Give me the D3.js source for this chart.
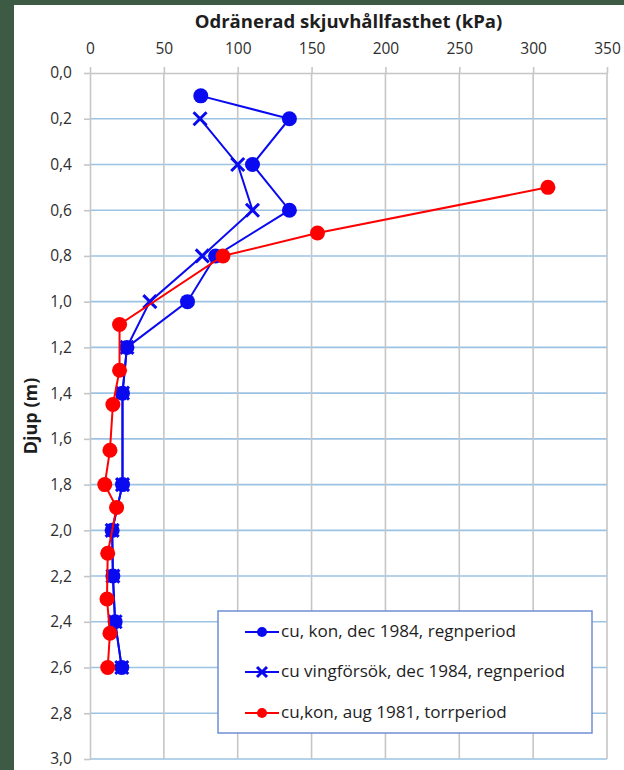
<!DOCTYPE html>
<html>
<head>
<meta charset="utf-8">
<script src="https://cdn.jsdelivr.net/npm/d3@7"></script>
<style>
  html, body { margin: 0; padding: 0; background: #3d5a45; }
  svg { display: block; }
  text { font-family: "Open Sans", "Noto Sans", sans-serif; }
</style>
</head>
<body>
<svg id="chart" width="624" height="770"></svg>
<script>
// ---- data ----
const xTicks = [0, 50, 100, 150, 200, 250, 300, 350];
const yTicks = [0, 0.2, 0.4, 0.6, 0.8, 1.0, 1.2, 1.4, 1.6, 1.8, 2.0, 2.2, 2.4, 2.6, 2.8, 3.0];

const konDec1984Depth = [0.1, 0.2, 0.4, 0.6, 0.8, 1.0, 1.2, 1.4, 1.8, 2.0, 2.2, 2.4, 2.6];
const konDec1984Cu    = [75, 135, 110, 135, 85, 66, 25, 22, 22, 15, 15.5, 17, 21.5];

const vingDec1984Depth = [0.2, 0.4, 0.6, 0.8, 1.0, 1.2, 1.4, 1.8, 2.0, 2.2, 2.4, 2.6];
const vingDec1984Cu    = [74.5, 100, 110, 76, 40.5, 25, 22, 22, 15, 15.5, 17, 21.5];

const konAug1981Depth = [0.5, 0.7, 0.8, 1.1, 1.3, 1.45, 1.65, 1.8, 1.9, 2.1, 2.3, 2.45, 2.6];
const konAug1981Cu    = [310, 154, 90, 20, 20, 15.5, 13.5, 10, 18, 12, 11.5, 13.5, 12];

const seriesNames = ["cu, kon, dec 1984, regnperiod", "cu vingförsök, dec 1984, regnperiod", "cu,kon, aug 1981, torrperiod"];
const titleText = "Odränerad skjuvhållfasthet (kPa)";
const yTitleText = "Djup (m)";

// ---- setup ----
const svg = d3.select("#chart");
const W = 624, H = 770;
svg.append("rect").attr("x", 0).attr("y", 0).attr("width", W).attr("height", H).attr("fill", "#3d5a45");
svg.append("rect").attr("x", 14).attr("y", 5).attr("width", W - 14).attr("height", H - 5).attr("fill", "#ffffff");

const x = d3.scaleLinear().domain([0, 350]).range([90, 607]);
const y = d3.scaleLinear().domain([0, 3]).range([73, 759]);

const BLUE = "#0a0af0", RED = "#ff0000";
const gridBlue = "#9dc3e4", gridGray = "#c6c6c6", textCol = "#2e2e2e";

// horizontal gridlines (blue)
svg.append("g").selectAll("line").data(yTicks.slice(1)).join("line")
  .attr("x1", x(0)).attr("x2", x(350))
  .attr("y1", d => y(d)).attr("y2", d => y(d))
  .attr("stroke", gridBlue).attr("stroke-width", 1.6);

// vertical gridlines (gray)
svg.append("g").selectAll("line").data(xTicks.slice(1)).join("line")
  .attr("x1", d => x(d)).attr("x2", d => x(d))
  .attr("y1", y(0)).attr("y2", y(3))
  .attr("stroke", gridGray).attr("stroke-width", 1.6);

// axes
const fmtY = d => d3.format(".1f")(d).replace(".", ",");
const xAxis = svg.append("g").attr("transform", `translate(0,${y(0)})`)
  .call(d3.axisTop(x).tickValues(xTicks).tickSize(6).tickPadding(13).tickSizeOuter(0));
const yAxis = svg.append("g").attr("transform", `translate(${x(0)},0)`)
  .call(d3.axisLeft(y).tickValues(yTicks).tickFormat(fmtY).tickSize(6).tickPadding(12).tickSizeOuter(0));
[xAxis, yAxis].forEach(g => {
  g.select(".domain").attr("stroke", gridGray).attr("stroke-width", 1.6);
  g.selectAll(".tick line").attr("stroke", gridGray).attr("stroke-width", 1.6);
  g.selectAll(".tick text").attr("fill", textCol).style("font-size", "15.5px")
    .style("font-family", "'Open Sans', sans-serif");
});

// titles
const t = svg.append("text").attr("x", (x(0) + x(350)) / 2).attr("y", 28)
  .attr("text-anchor", "middle").attr("fill", "#1e1e1e").style("font-weight", "bold")
  .style("font-size", "17px").text(titleText);
const tw = t.node().getComputedTextLength();
t.style("font-size", (17 * 308 / tw).toFixed(2) + "px");

svg.append("text").attr("transform", `translate(37,${(y(0) + y(3)) / 2}) rotate(-90)`)
  .attr("text-anchor", "middle").attr("fill", "#1e1e1e").style("font-weight", "bold")
  .style("font-size", "18px").text(yTitleText);

// series
const line = d3.line().x(d => x(d.v)).y(d => y(d.d));
const zip = (ds, vs) => ds.map((d, i) => ({ d, v: vs[i] }));
const s1 = zip(konDec1984Depth, konDec1984Cu);
const s2 = zip(vingDec1984Depth, vingDec1984Cu);
const s3 = zip(konAug1981Depth, konAug1981Cu);

function drawCircles(g, data, color, r) {
  g.selectAll("circle.m").data(data).join("circle").attr("class", "m")
    .attr("cx", d => x(d.v)).attr("cy", d => y(d.d)).attr("r", r).attr("fill", color);
}
function xPath(cx, cy, s) {
  return `M${cx - s},${cy - s}L${cx + s},${cy + s}M${cx - s},${cy + s}L${cx + s},${cy - s}`;
}
function drawX(g, data, color, s) {
  g.selectAll("path.m").data(data).join("path").attr("class", "m")
    .attr("d", d => xPath(x(d.v), y(d.d), s))
    .attr("stroke", color).attr("stroke-width", 3).attr("fill", "none");
}

const g1 = svg.append("g");
g1.append("path").datum(s1).attr("d", line).attr("fill", "none").attr("stroke", BLUE).attr("stroke-width", 2);
drawCircles(g1, s1, BLUE, 7.5);

const g2 = svg.append("g");
g2.append("path").datum(s2).attr("d", line).attr("fill", "none").attr("stroke", BLUE).attr("stroke-width", 2);
drawX(g2, s2, BLUE, 6.5);

const g3 = svg.append("g");
g3.append("path").datum(s3).attr("d", line).attr("fill", "none").attr("stroke", RED).attr("stroke-width", 2);
drawCircles(g3, s3, RED, 7.5);

// legend
const lg = svg.append("g");
lg.append("rect").attr("x", 218).attr("y", 611).attr("width", 374).attr("height", 122)
  .attr("fill", "#ffffff").attr("stroke", "#6f8fd6").attr("stroke-width", 1.5);
const rows = [
  { name: seriesNames[0], color: BLUE, mk: "c", yy: 632 },
  { name: seriesNames[1], color: BLUE, mk: "x", yy: 672 },
  { name: seriesNames[2], color: RED,  mk: "c", yy: 713 }
];
rows.forEach(r => {
  lg.append("line").attr("x1", 245).attr("x2", 279).attr("y1", r.yy).attr("y2", r.yy)
    .attr("stroke", r.color).attr("stroke-width", 2);
  if (r.mk === "c") {
    lg.append("circle").attr("cx", 262).attr("cy", r.yy).attr("r", 5).attr("fill", r.color);
  } else {
    lg.append("path").attr("d", xPath(262, r.yy, 5)).attr("stroke", r.color).attr("stroke-width", 3);
  }
  lg.append("text").attr("x", 281).attr("y", r.yy + 5).attr("fill", "#1e1e1e")
    .style("font-size", "15px").text(r.name);
});
// fit legend text size so the first entry spans ~235px
const lt = lg.selectAll("text");
const w0 = lt.nodes()[0].getComputedTextLength();
lt.style("font-size", (15 * 235 / w0).toFixed(2) + "px");
</script>
</body>
</html>
